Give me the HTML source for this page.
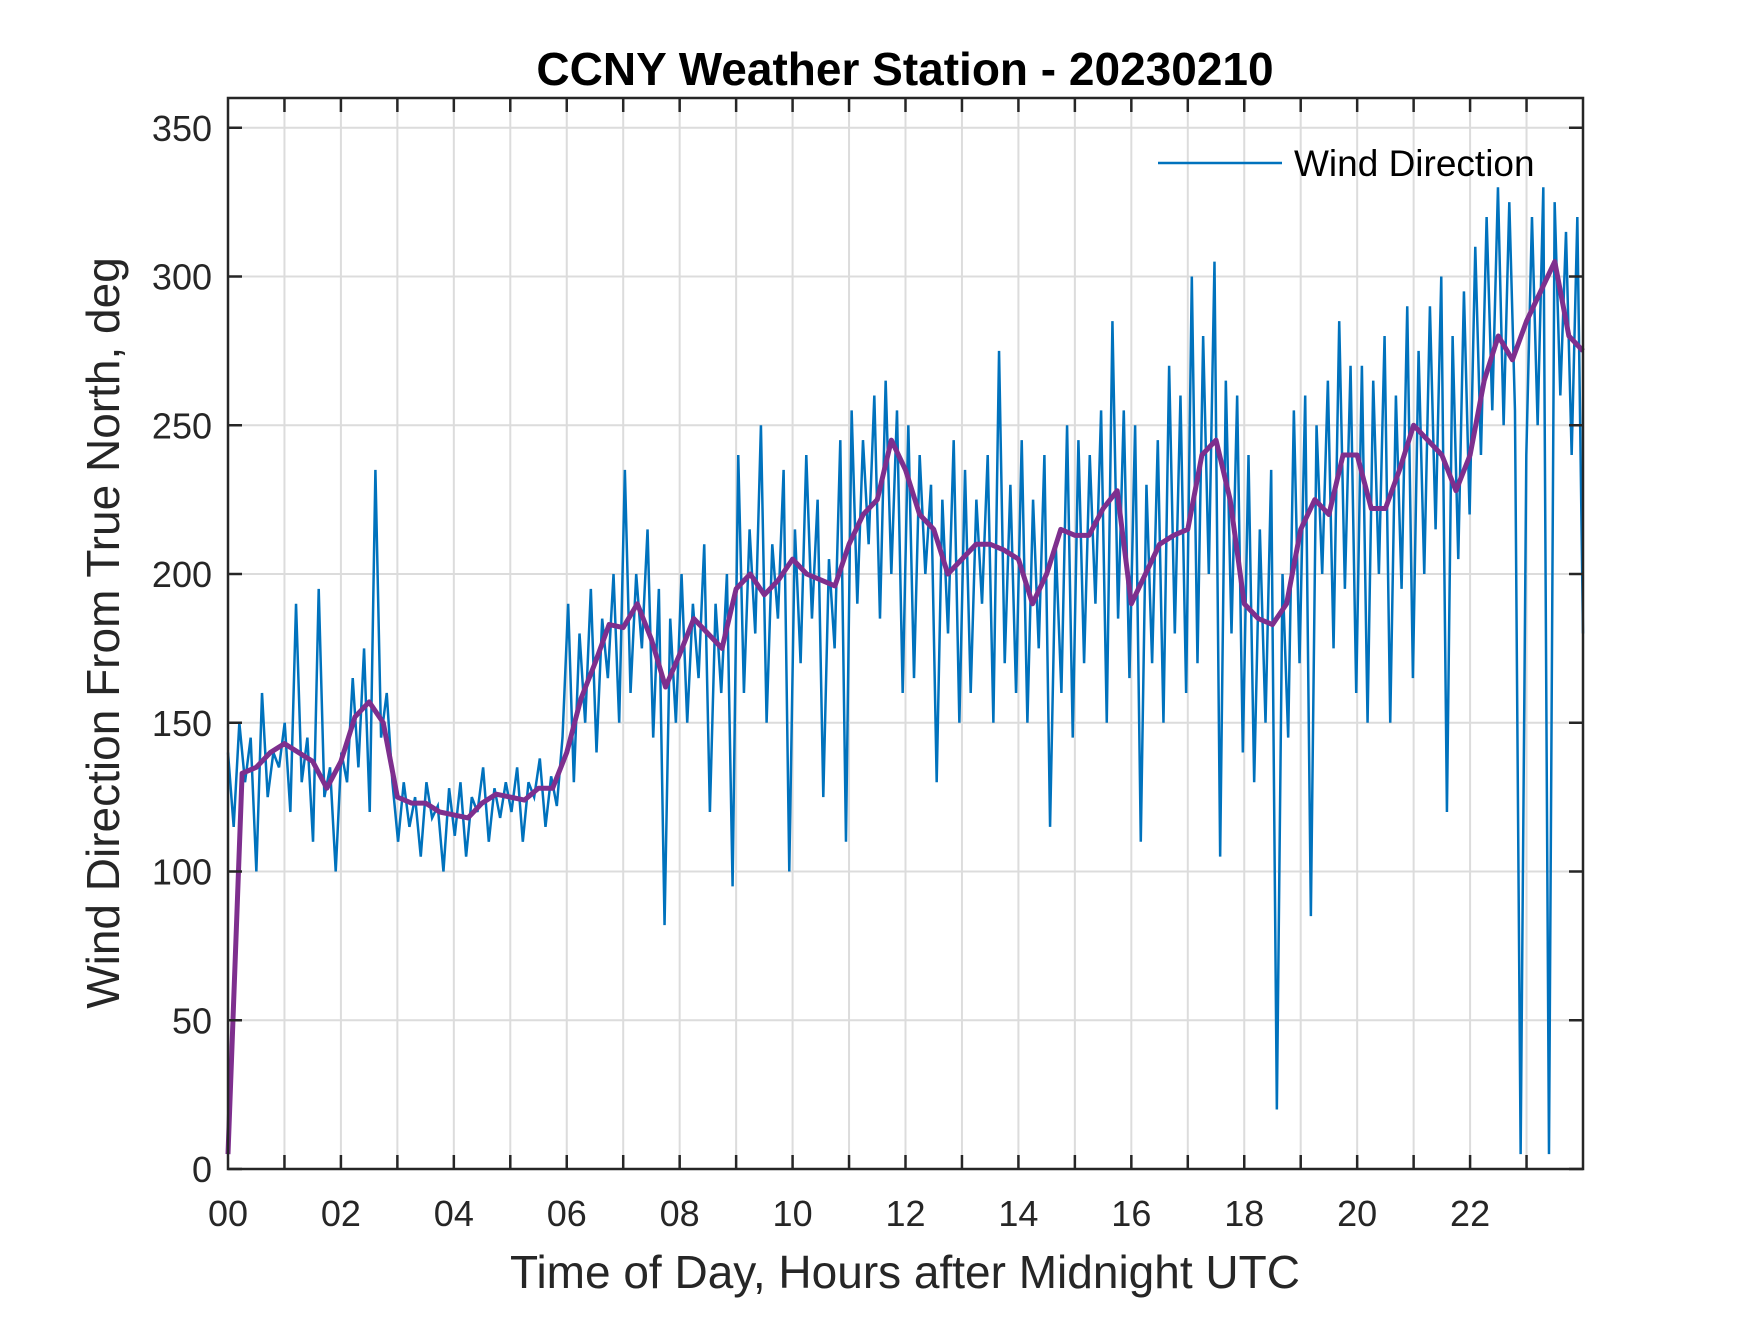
<!DOCTYPE html>
<html><head><meta charset="utf-8"><style>
html,body{margin:0;padding:0;background:#fff;}
svg text{font-family:"Liberation Sans",Arial,sans-serif;fill:#262626;}
</style></head><body>
<svg id="chart" width="1750" height="1313" viewBox="0 0 1750 1313" xmlns="http://www.w3.org/2000/svg">
<rect x="0" y="0" width="1750" height="1313" fill="#fff"/>
<text x="905" y="85" text-anchor="middle" font-size="46" font-weight="bold" style="fill:#000">CCNY Weather Station - 20230210</text>
<g id="grid"></g>
<g id="series"></g>
<g id="axes"></g>
<text x="905" y="1288" text-anchor="middle" font-size="46">Time of Day, Hours after Midnight UTC</text>
<text transform="translate(119,633) rotate(-90)" text-anchor="middle" font-size="46">Wind Direction From True North, deg</text>
<g>
<line x1="1158" y1="163" x2="1282" y2="163" stroke="#0072BD" stroke-width="2.5"/>
<text x="1294" y="176" font-size="37" style="fill:#000">Wind Direction</text>
</g>
</svg>
<script>
const xTicks = [0,2,4,6,8,10,12,14,16,18,20,22];
const xTickLabels = ["00","02","04","06","08","10","12","14","16","18","20","22"];
const yTicks = [0,50,100,150,200,250,300,350];
const yTickLabels = ["0","50","100","150","200","250","300","350"];
const rawValues = [
140,115,150,130,145,100,160,125,140,135,
150,120,190,130,145,110,195,125,135,100,
140,130,165,135,175,120,235,145,160,130,
110,130,115,125,105,130,118,122,100,128,
112,130,105,125,120,135,110,128,118,130,
120,135,110,130,125,138,115,132,122,145,
190,130,180,150,195,140,185,165,200,150,
235,160,200,175,215,145,195,82,185,150,
200,150,190,165,210,120,190,160,200,95,
240,160,215,180,250,150,210,185,235,100,
215,170,240,185,225,125,205,175,245,110,
255,190,245,210,260,185,265,200,255,160,
250,165,240,200,230,130,225,180,245,150,
235,160,225,190,240,150,275,170,230,160,
245,150,225,175,240,115,210,160,250,145,
245,170,240,190,255,150,285,185,255,165,
250,110,230,170,245,150,270,180,260,160,
300,170,280,200,305,105,265,180,260,140,
240,130,215,150,235,20,200,145,255,170,
260,85,250,200,265,175,285,195,270,160,
270,150,265,200,280,150,260,195,290,165,
275,200,290,215,300,120,280,205,295,220,
310,240,320,255,330,250,325,255,5,240,
320,250,330,5,325,260,315,240,320,180
];
const avgValues = [5,133,135,140,143,140,137,128,137,152,157,150,125,123,123,120,119,118,123,126,125,124,128,128,140,158,170,183,182,190,178,162,173,185,180,175,195,200,193,198,205,200,198,196,210,220,225,245,235,220,215,200,205,210,210,208,205,190,200,215,213,213,222,228,190,200,210,213,215,240,245,225,190,185,183,190,215,225,220,240,240,222,222,235,250,245,240,228,240,265,280,272,285,295,305,280,275];

const L=228,R=1583,T=98,B=1169;
const xS=h=>L+(R-L)*h/24;
const yS=v=>B-(B-T)*v/360;
const NS="http://www.w3.org/2000/svg";
function mk(tag,parent){const e=document.createElementNS(NS,tag);parent.appendChild(e);return e;}
const grid=document.getElementById('grid'),axes=document.getElementById('axes'),series=document.getElementById('series');
for(let h=1;h<24;h++){
  const l=mk('line',grid);
  
  
  l.setAttribute('x1',xS(h));l.setAttribute('x2',xS(h));l.setAttribute('y1',T);l.setAttribute('y2',B);
  l.setAttribute('stroke','#dcdcdc');l.setAttribute('stroke-width','2');
  [[T,T+14],[B-14,B]].forEach(p=>{const t=mk('line',axes);
    
    
    t.setAttribute('x1',xS(h));t.setAttribute('x2',xS(h));t.setAttribute('y1',p[0]);t.setAttribute('y2',p[1]);t.setAttribute('stroke','#262626');t.setAttribute('stroke-width','2.5');});
}
xTicks.forEach((h,i)=>{const t=mk('text',axes);
  
  
  t.setAttribute('x',xS(h));t.setAttribute('y',1226);t.setAttribute('text-anchor','middle');t.setAttribute('font-size','36');t.textContent=xTickLabels[i];});
yTicks.forEach((v,i)=>{
  if(v>0){const l=mk('line',grid);
    
    
    l.setAttribute('x1',L);l.setAttribute('x2',R);l.setAttribute('y1',yS(v));l.setAttribute('y2',yS(v));l.setAttribute('stroke','#dcdcdc');l.setAttribute('stroke-width','2');}
  [[L,L+14],[R-14,R]].forEach(p=>{const t=mk('line',axes);
    
    
    t.setAttribute('x1',p[0]);t.setAttribute('x2',p[1]);t.setAttribute('y1',yS(v));t.setAttribute('y2',yS(v));t.setAttribute('stroke','#262626');t.setAttribute('stroke-width','2.5');});
  const t=mk('text',axes);
  
  
  t.setAttribute('x',L-16);t.setAttribute('y',yS(v)+13);t.setAttribute('text-anchor','end');t.setAttribute('font-size','36');t.textContent=yTickLabels[i];
});
const box=mk('rect',axes);


box.setAttribute('x',L);box.setAttribute('y',T);box.setAttribute('width',R-L);box.setAttribute('height',B-T);box.setAttribute('fill','none');box.setAttribute('stroke','#262626');box.setAttribute('stroke-width','2.5');
const raw=mk('polyline',series);


raw.setAttribute('points',rawValues.map((v,i)=>xS(i*24/(rawValues.length-1))+','+yS(v)).join(' '));
raw.setAttribute('fill','none');raw.setAttribute('stroke','#0072BD');raw.setAttribute('stroke-width','2.5');
const avg=mk('polyline',series);


avg.setAttribute('points',avgValues.map((v,i)=>xS(i*24/(avgValues.length-1))+','+yS(v)).join(' '));
avg.setAttribute('fill','none');avg.setAttribute('stroke','#7E2F8E');avg.setAttribute('stroke-width','5');avg.setAttribute('stroke-linejoin','round');
</script>
</body></html>
